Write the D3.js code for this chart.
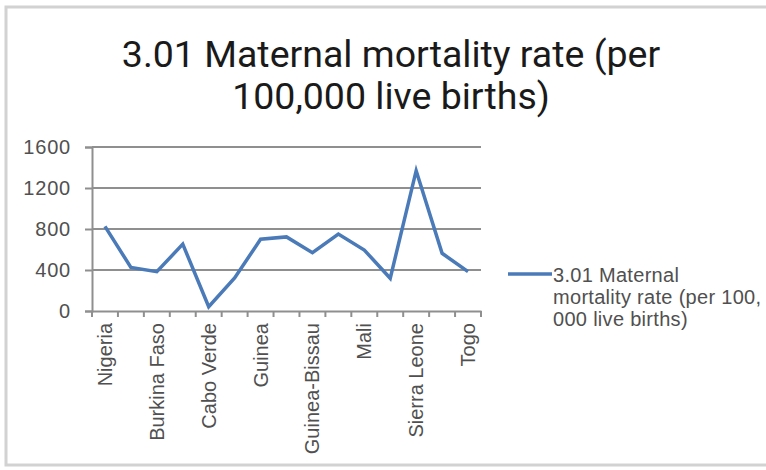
<!DOCTYPE html>
<html><head><meta charset="utf-8">
<script src="https://cdn.jsdelivr.net/npm/d3@7"></script>
<style>body{margin:0;background:#fff}svg{display:block}</style>
</head><body>
<script>
const categories = ["Nigeria","Benin","Burkina Faso","Côte d'Ivoire","Cabo Verde","Ghana","Guinea","Gambia","Guinea-Bissau","Liberia","Mali","Senegal","Sierra Leone","Niger","Togo"];
const shownLabels = ["Nigeria","Burkina Faso","Cabo Verde","Guinea","Guinea-Bissau","Mali","Sierra Leone","Togo"];
const values = [826, 425, 384, 652, 42, 322, 700, 723, 569, 750, 595, 319, 1369, 563, 384];
const yTicks = [0, 400, 800, 1200, 1600];
const titleLines = ["3.01 Maternal mortality rate (per", "100,000 live births)"];
const legendLines = ["3.01 Maternal", "mortality rate (per 100,", "000 live births)"];

const W = 766, H = 470;
const svg = d3.select("body").append("svg").attr("width", W).attr("height", H);
svg.append("rect").attr("width", W).attr("height", H).attr("fill", "#fff");
// frame
svg.append("rect").attr("x", 6).attr("y", 7).attr("width", 800).attr("height", 458)
  .attr("fill", "none").attr("stroke", "#d2d2d2").attr("stroke-width", 3);

const labelFont = "'Liberation Sans', Arial, sans-serif";
const txtCol = "#505050";

// title
svg.append("g").selectAll("text").data(titleLines).join("text")
  .attr("x", 391).attr("y", (d, i) => 67 + i * 42)
  .attr("text-anchor", "middle").attr("font-family", "Roboto, sans-serif")
  .attr("font-size", 37.5).attr("fill", "#1a1a1a").text(d => d);

const x = d3.scaleBand().domain(categories).range([92, 481]);
const y = d3.scaleLinear().domain([0, 1600]).range([311, 147]);

// gridlines
svg.append("g").selectAll("line").data(yTicks.filter(v => v > 0)).join("line")
  .attr("x1", 92).attr("x2", 481).attr("y1", d => y(d)).attr("y2", d => y(d))
  .attr("stroke", "#8f8f8f").attr("stroke-width", 2);

// y axis
const yAxis = svg.append("g").attr("transform", "translate(92,0)")
  .call(d3.axisLeft(y).tickValues(yTicks).tickSize(7).tickPadding(14).tickFormat(d3.format("d")));
yAxis.select(".domain").attr("stroke", "#8f8f8f").attr("stroke-width", 2);
yAxis.selectAll(".tick line").attr("stroke", "#8f8f8f").attr("stroke-width", 2);
yAxis.selectAll("text").attr("font-family", labelFont).attr("font-size", 20)
  .attr("letter-spacing", 0.8).attr("fill", txtCol);

// x axis
const xAxis = svg.append("g").attr("transform", "translate(0,311)")
  .call(d3.axisBottom(x).tickSize(0).tickFormat(d => shownLabels.includes(d) ? d : ""));
xAxis.select(".domain").attr("stroke", "#8f8f8f").attr("stroke-width", 2);
// boundary tick marks
xAxis.append("g").selectAll("line").data(categories.concat(["__end"])).join("line")
  .attr("x1", (d, i) => i < categories.length ? x(d) : x.range()[1])
  .attr("x2", (d, i) => i < categories.length ? x(d) : x.range()[1])
  .attr("y1", 0).attr("y2", 6).attr("stroke", "#8f8f8f").attr("stroke-width", 2);
xAxis.selectAll(".tick text")
  .attr("font-family", labelFont).attr("font-size", 20).attr("fill", txtCol)
  .attr("text-anchor", "end").attr("dy", "0.35em")
  .attr("transform", "translate(0,12) rotate(-90)").attr("x", 0).attr("y", 0);

// line
const line = d3.line().x((d, i) => x(categories[i]) + x.bandwidth() / 2).y(d => y(d));
svg.append("path").datum(values).attr("d", line)
  .attr("fill", "none").attr("stroke", "#4a7ab8").attr("stroke-width", 3.5)
  .attr("stroke-linejoin", "miter");

// legend
svg.append("line").attr("x1", 508).attr("x2", 552).attr("y1", 274).attr("y2", 274)
  .attr("stroke", "#4a7ab8").attr("stroke-width", 3.5);
svg.append("g").selectAll("text").data(legendLines).join("text")
  .attr("x", 553).attr("y", (d, i) => 282 + i * 22)
  .attr("font-family", labelFont).attr("font-size", 20).attr("fill", txtCol)
  .attr("letter-spacing", 0.3).text(d => d);
</script>
</body></html>
